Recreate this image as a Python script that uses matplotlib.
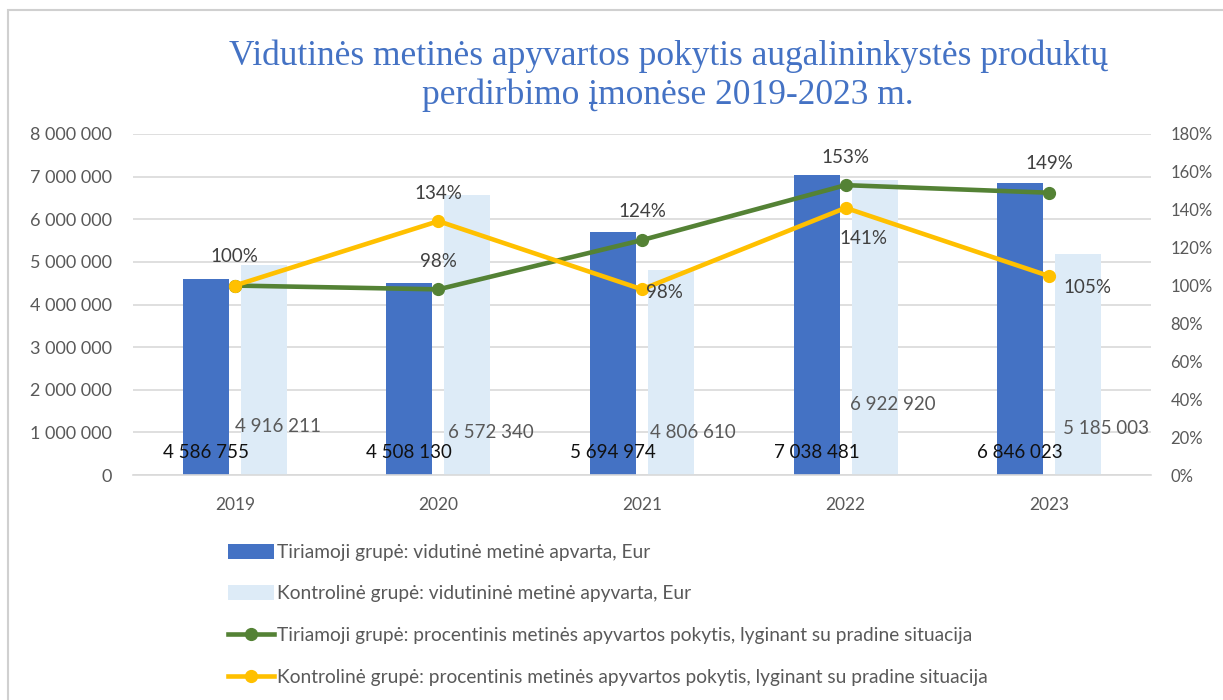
import matplotlib
matplotlib.use("Agg")
import matplotlib.pyplot as plt
from matplotlib.lines import Line2D
from matplotlib.patches import Patch, Rectangle
import numpy as np

years = ["2019", "2020", "2021", "2022", "2023"]
tiriamoji_turnover = [4586755, 4508130, 5694974, 7038481, 6846023]
kontroline_turnover = [4916211, 6572340, 4806610, 6922920, 5185003]
tiriamoji_pct = [100, 98, 124, 153, 149]
kontroline_pct = [100, 134, 98, 141, 105]

title = "Vidutinės metinės apyvartos pokytis augalininkystės produktų\nperdirbimo įmonėse 2019-2023 m."
legend_labels = [
    "Tiriamoji grupė: vidutinė metinė apvarta, Eur",
    "Kontrolinė grupė: vidutininė metinė apyvarta, Eur",
    "Tiriamoji grupė: procentinis metinės apyvartos pokytis, lyginant su pradine situacija",
    "Kontrolinė grupė: procentinis metinės apyvartos pokytis, lyginant su pradine situacija",
]

# label placement (pixel offsets)
light_label_dx = [14, 23, 22, 18, 28]
light_label_dy = [48, 42, 42, 70, 47]
green_label_off = [(0, 29), (0, 28), (0, 29), (0, 28), (0, 29)]
yellow_label_off = [None, (0, 28), (22, -3), (18, -31), (38, -11)]

DARK = "#4472C4"
LIGHT = "#DDEBF7"
GREEN = "#548235"
YELLOW = "#FFC000"
GRID = "#D9D9D9"
TXT = "#595959"

plt.rcParams["font.family"] = ["Lato", "DejaVu Sans"]

W, H = 1223, 700
fig = plt.figure(figsize=(W / 100, H / 100), dpi=100)
fig.patch.set_facecolor("white")

# outer frame
fig.patches.append(Rectangle((8 / W, -0.05), 1.2, 1 - 10 / H + 0.05, transform=fig.transFigure,
                             fill=False, edgecolor="#D0D0D0", linewidth=1.5))

left, right, bottom, top = 133 / W, 1151 / W, 1 - 475 / H, 1 - 134 / H
ax = fig.add_axes([left, bottom, right - left, top - bottom])
ax2 = ax.twinx()

x = np.arange(len(years))
off = 0.1425
bw = 0.226
ax.bar(x - off, tiriamoji_turnover, bw, color=DARK, zorder=2)
ax.bar(x + off, kontroline_turnover, bw, color=LIGHT, zorder=2)

ax.set_xlim(-0.5, len(years) - 0.5)
ax.set_ylim(0, 8000000)
ax.set_yticks(np.arange(0, 8000001, 1000000))
ax.set_yticklabels([f"{int(v):,}".replace(",", " ") for v in np.arange(0, 8000001, 1000000)])
ax.grid(axis="y", color=GRID, linewidth=1.2, zorder=0)
ax.set_axisbelow(True)
ax.set_xticks(x)
ax.set_xticklabels(years)
for s in ["top", "left", "right"]:
    ax.spines[s].set_visible(False)
ax.spines["bottom"].set_color(GRID)
ax.spines["bottom"].set_linewidth(1.2)
ax.tick_params(axis="both", length=0, colors=TXT)
ax.tick_params(axis="x", pad=16, labelsize=12.5)
ax.tick_params(axis="y", pad=15, labelsize=13)

ax2.set_ylim(0, 180)
ax2.set_yticks(np.arange(0, 181, 20))
ax2.set_yticklabels([f"{v}%" for v in range(0, 181, 20)])
for s in ["top", "left", "right", "bottom"]:
    ax2.spines[s].set_visible(False)
ax2.tick_params(axis="y", length=0, colors=TXT, labelsize=12, pad=14)

ax2.plot(x, tiriamoji_pct, color=GREEN, lw=3.3, marker="o", ms=8.5, zorder=3)
ax2.plot(x, kontroline_pct, color=YELLOW, lw=3.3, marker="o", ms=8.5, zorder=4)

LS = 13.5
fmt = lambda v: f"{v:,}".replace(",", " ")
for i in range(len(years)):
    ax.annotate(fmt(tiriamoji_turnover[i]), (x[i] - off, 0), xytext=(0, 23),
                textcoords="offset pixels", ha="center", va="center",
                fontsize=LS, color="#111111", zorder=5)
    ax.annotate(fmt(kontroline_turnover[i]), (x[i] + off, 0),
                xytext=(light_label_dx[i], light_label_dy[i]),
                textcoords="offset pixels", ha="center", va="center",
                fontsize=LS, color=TXT, zorder=5)
    go = green_label_off[i]
    ax2.annotate(f"{tiriamoji_pct[i]}%", (x[i], tiriamoji_pct[i]), xytext=go,
                 textcoords="offset pixels", ha="center", va="center",
                 fontsize=LS, color="#404040", zorder=6)
    yo = yellow_label_off[i]
    if yo is not None:
        ax2.annotate(f"{kontroline_pct[i]}%", (x[i], kontroline_pct[i]), xytext=yo,
                     textcoords="offset pixels", ha="center", va="center",
                     fontsize=LS, color="#404040", zorder=6)

fig.text(668 / W, 1 - 76 / H, title, ha="center", va="center", color=DARK,
         fontsize=25.5, family=["Liberation Serif", "DejaVu Serif"], linespacing=1.2)

handles = [
    Patch(facecolor=DARK, edgecolor="none"),
    Patch(facecolor=LIGHT, edgecolor="none"),
    Line2D([0], [0], color=GREEN, lw=3.3, marker="o", ms=8.5),
    Line2D([0], [0], color=YELLOW, lw=3.3, marker="o", ms=8.5),
]
leg = fig.legend(handles, legend_labels, loc="upper left",
                 bbox_to_anchor=(218 / W, 1 - 534 / H), frameon=False,
                 fontsize=13.8, labelcolor=TXT, handlelength=2.4, handleheight=0.85,
                 handletextpad=0.2, labelspacing=1.27, borderpad=0)

fig.savefig("out.png", dpi=100, facecolor="white")
